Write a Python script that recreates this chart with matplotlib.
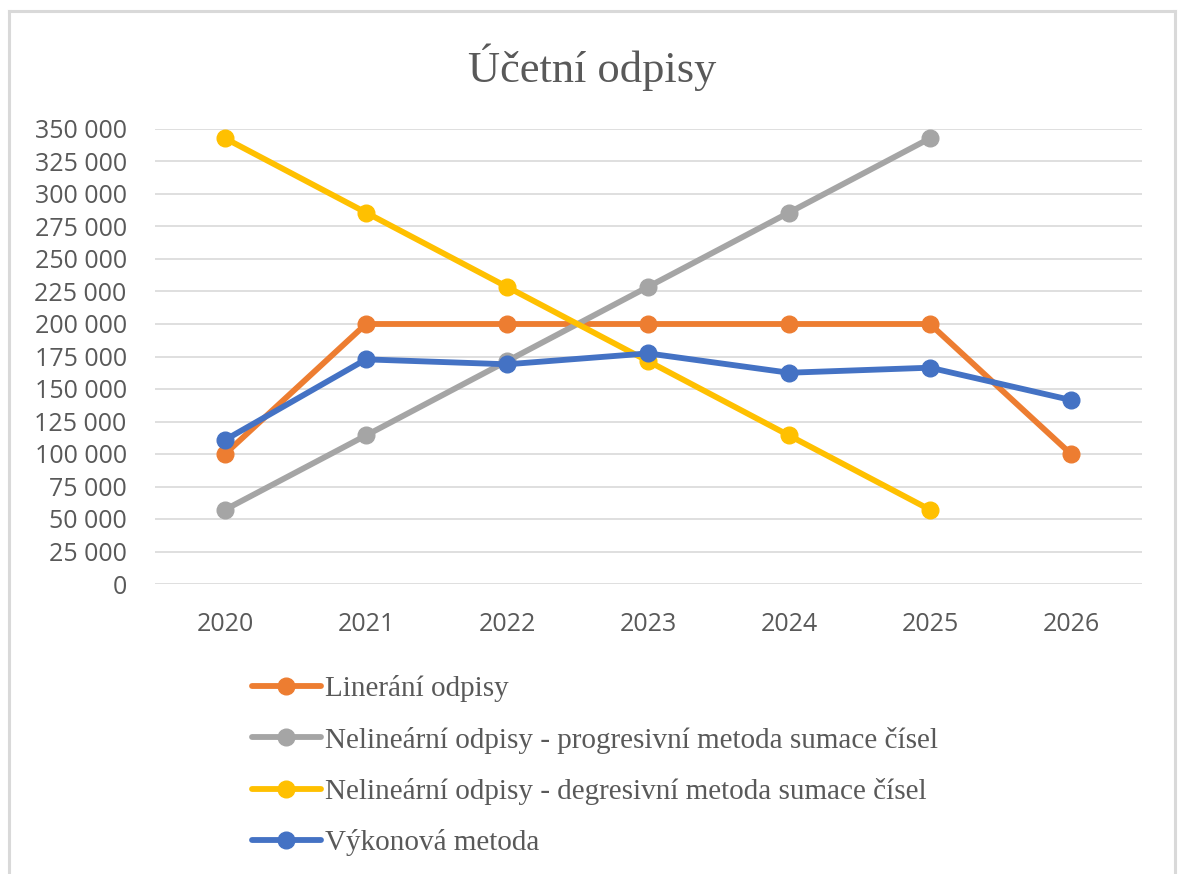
import matplotlib
matplotlib.use("Agg")
import matplotlib.pyplot as plt
from matplotlib.lines import Line2D
from matplotlib.ticker import FuncFormatter, MultipleLocator

years = ["2020", "2021", "2022", "2023", "2024", "2025", "2026"]
linearni = [100000, 200000, 200000, 200000, 200000, 200000, 100000]
progresivni = [57143, 114286, 171429, 228571, 285714, 342857]
degresivni = [342857, 285714, 228571, 171429, 114286, 57143]
vykonova = [110800, 172800, 169000, 177400, 162500, 166400, 141500]

labels = ["Linerání odpisy",
          "Nelineární odpisy - progresivní metoda sumace čísel",
          "Nelineární odpisy - degresivní metoda sumace čísel",
          "Výkonová metoda"]
colors = ["#ED7D31", "#A5A5A5", "#FFC000", "#4472C4"]
series = [linearni, progresivni, degresivni, vykonova]

W, H = 1178, 874
fig = plt.figure(figsize=(W / 100, H / 100), dpi=100)
ax = fig.add_axes([154.5 / W, 1 - 584 / H, 987 / W, 455 / H])

handles = []
for vals, col, lab in zip(series, colors, labels):
    x = list(range(len(vals)))
    ln, = ax.plot(x, vals, color=col, lw=4.2, marker="o", ms=12,
                  solid_capstyle="round", label=lab)
    handles.append(ln)

ax.set_xlim(-0.5, len(years) - 0.5)
ax.set_ylim(0, 350000)
ax.set_xticks(range(len(years)))
ax.set_xticklabels(years)
ax.yaxis.set_major_locator(MultipleLocator(25000))
ax.yaxis.set_major_formatter(FuncFormatter(lambda v, p: f"{v:,.0f}".replace(",", " ")))
ax.grid(axis="y", color="#D9D9D9", lw=1.2, zorder=0)
ax.set_axisbelow(True)
for s in ax.spines.values():
    s.set_visible(False)
ax.tick_params(length=0, labelsize=18, labelcolor="#595959")
ax.tick_params(axis="y", pad=20)
ax.tick_params(axis="x", pad=20)
for t in ax.get_xticklabels() + ax.get_yticklabels():
    t.set_fontfamily("Open Sans")

fig.text(592 / W, 1 - 67 / H, "Účetní odpisy", ha="center", va="center",
         fontsize=32, color="#595959", family="Liberation Serif")

fig.legend(handles=handles, loc="upper left",
           bbox_to_anchor=(252 / W, 1 - 675 / H), frameon=False,
           borderpad=0, borderaxespad=0, handlelength=2.35, handletextpad=0.15,
           labelspacing=0.84, prop={"family": "Liberation Serif", "size": 21},
           labelcolor="#595959")

# chart border (light gray)
bc = "#D9D9D9"
fig.add_artist(Line2D([9 / W, 9 / W], [0, 1 - 11 / H], color=bc, lw=2.2))
fig.add_artist(Line2D([9 / W, 1175 / W], [1 - 11 / H, 1 - 11 / H], color=bc, lw=2.2))
fig.add_artist(Line2D([1175 / W, 1175 / W], [0, 1 - 11 / H], color=bc, lw=2.2))

fig.savefig("out.png", dpi=100)
